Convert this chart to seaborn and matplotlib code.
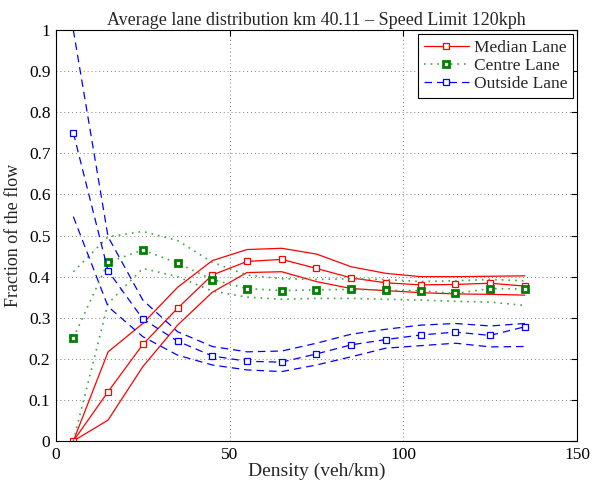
import matplotlib
matplotlib.use("Agg")
import matplotlib.pyplot as plt
import seaborn as sns
import numpy as np
from matplotlib.lines import Line2D

density = [5, 15, 25, 35, 45, 55, 65, 75, 85, 95, 105, 115, 125, 135]

median_mean = [0.0, 0.12, 0.235, 0.323, 0.404, 0.437, 0.442, 0.42, 0.397, 0.385, 0.38, 0.381, 0.384, 0.377]
median_upper = [0.0, 0.217, 0.286, 0.374, 0.439, 0.466, 0.469, 0.455, 0.424, 0.408, 0.40, 0.40, 0.401, 0.402]
median_lower = [0.0, 0.051, 0.181, 0.282, 0.362, 0.41, 0.412, 0.388, 0.371, 0.366, 0.361, 0.358, 0.357, 0.355]

centre_mean = [0.251, 0.435, 0.465, 0.433, 0.393, 0.371, 0.366, 0.368, 0.369, 0.367, 0.366, 0.359, 0.371, 0.37]
centre_upper = [0.412, 0.497, 0.51, 0.488, 0.435, 0.404, 0.395, 0.393, 0.395, 0.393, 0.388, 0.39, 0.393, 0.39]
centre_lower = [0.0, 0.335, 0.42, 0.40, 0.365, 0.35, 0.345, 0.347, 0.347, 0.345, 0.343, 0.34, 0.338, 0.33]

outside_mean = [0.75, 0.414, 0.297, 0.243, 0.207, 0.194, 0.192, 0.212, 0.234, 0.247, 0.258, 0.265, 0.257, 0.278]
outside_upper = [1.0, 0.497, 0.343, 0.266, 0.23, 0.217, 0.219, 0.238, 0.26, 0.272, 0.282, 0.286, 0.28, 0.286]
outside_lower = [0.546, 0.327, 0.254, 0.209, 0.185, 0.173, 0.169, 0.185, 0.205, 0.226, 0.232, 0.238, 0.229, 0.23]

labels = ["Median Lane", "Centre Lane", "Outside Lane"]
title = "Average lane distribution km 40.11 \u2013 Speed Limit 120kph"

sns.set_style("white")
plt.rcParams['font.family'] = ['Liberation Serif', 'DejaVu Serif']

fig = plt.figure(figsize=(5.93, 4.86), dpi=100)
ax = fig.add_axes([0.0944, 0.0926, 0.8786, 0.8454])

red = (1, 0, 0)
green = (0, 0.5, 0)
lgreen = (0.25, 0.65, 0.25)
blue = (0, 0, 1)

# Median lane
for arr in (median_upper, median_lower):
    sns.lineplot(x=density, y=arr, ax=ax, color=red, lw=0.9, linestyle='-')
sns.lineplot(x=density, y=median_mean, ax=ax, color=red, lw=0.9, linestyle='-',
             marker='s', markersize=5, markerfacecolor='white', markeredgecolor=red, markeredgewidth=0.9)

# Centre lane
for arr in (centre_upper, centre_lower):
    sns.lineplot(x=density, y=arr, ax=ax, color=lgreen, lw=1.2, linestyle=(0, (1, 3)))
sns.lineplot(x=density, y=centre_mean, ax=ax, color=lgreen, lw=1.2, linestyle=(0, (1, 3)),
             marker='s', markersize=4.2, markerfacecolor='white', markeredgecolor=green, markeredgewidth=2.0)

# Outside lane
for arr in (outside_upper, outside_lower):
    sns.lineplot(x=density, y=arr, ax=ax, color=blue, lw=0.9, linestyle=(0, (6, 4)))
sns.lineplot(x=density, y=outside_mean, ax=ax, color=blue, lw=0.9, linestyle=(0, (6, 4)),
             marker='s', markersize=5, markerfacecolor='white', markeredgecolor=blue, markeredgewidth=0.9)

ax.set_xlim(0, 150)
ax.set_ylim(0, 1)
ax.set_xticks([0, 50, 100, 150])
ax.set_xticklabels(["0", "50", "100", "150"])
yt = [0, 0.1, 0.2, 0.3, 0.4, 0.5, 0.6, 0.7, 0.8, 0.9, 1]
ax.set_yticks(yt)
ax.set_yticklabels(["0", "0.1", "0.2", "0.3", "0.4", "0.5", "0.6", "0.7", "0.8", "0.9", "1"])
ax.tick_params(direction='in', length=4, width=0.8, labelsize=12.5, top=True, right=True,
               pad=4, colors='black')
ax.grid(True, color=(0.5, 0.5, 0.5), linestyle=(0, (1, 3)), linewidth=0.7)
for s in ax.spines.values():
    s.set_color('black')
    s.set_linewidth(0.8)

ax.set_xlabel("Density (veh/km)", fontsize=14, labelpad=0)
ax.set_ylabel("Fraction of the flow", fontsize=13, labelpad=5)
ax.set_title(title, fontsize=13, pad=4)

handles = [
    Line2D([], [], color=red, lw=0.9, linestyle='-', marker='s', markersize=5,
           markerfacecolor='white', markeredgecolor=red, markeredgewidth=0.9),
    Line2D([], [], color=lgreen, lw=1.2, linestyle=(0, (1, 3)), marker='s', markersize=4.2,
           markerfacecolor='white', markeredgecolor=green, markeredgewidth=2.0),
    Line2D([], [], color=blue, lw=0.9, linestyle=(0, (6, 4)), marker='s', markersize=5,
           markerfacecolor='white', markeredgecolor=blue, markeredgewidth=0.9),
]
leg = ax.legend(handles, labels, loc='upper right', fontsize=12.5, frameon=True, fancybox=False,
                edgecolor='black', framealpha=1, borderpad=0.3, labelspacing=0.12,
                handlelength=2.6, handletextpad=0.3, borderaxespad=0.25)
leg.get_frame().set_linewidth(0.8)

fig.savefig("out.png", dpi=100)
